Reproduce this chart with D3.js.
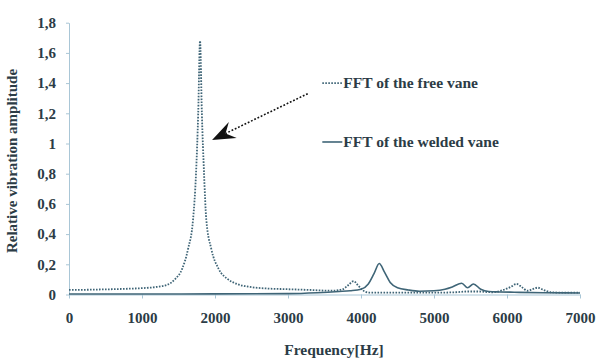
<!DOCTYPE html>
<html>
<head>
<meta charset="utf-8">
<script src="https://cdn.jsdelivr.net/npm/d3@7"></script>
<style>
html,body{margin:0;padding:0;background:#fff;}
svg{display:block;}
text{font-family:"Liberation Serif","Times New Roman",serif;font-weight:bold;fill:#2c3c46;}
</style>
</head>
<body>
<svg id="chart" width="597" height="361"></svg>
<script>
// Data
const freeFreq = [0,200,400,600,800,1000,1200,1350,1450,1550,1630,1700,1740,1770,1795,1820,1850,1880,1950,2050,2180,2300,2480,2700,3000,3300,3600,3750,3820,3900,3960,4020,4100,4300,4600,5000,5300,5450,5600,5800,5950,6050,6130,6200,6280,6350,6420,6500,6600,6800,7000];
const freeVal  = [0.03,0.031,0.033,0.035,0.038,0.042,0.05,0.065,0.1,0.17,0.3,0.5,0.8,1.2,1.68,1.2,0.8,0.5,0.3,0.17,0.1,0.07,0.05,0.04,0.035,0.03,0.025,0.035,0.06,0.088,0.06,0.03,0.013,0.012,0.012,0.012,0.015,0.02,0.02,0.015,0.03,0.05,0.07,0.05,0.025,0.035,0.045,0.03,0.015,0.012,0.012];
const weldFreq = [0,1000,2000,3000,3400,3700,3850,4000,4100,4180,4250,4320,4400,4500,4650,4800,5000,5150,5250,5380,5460,5540,5640,5750,5900,6100,6500,7000];
const weldVal  = [0.003,0.003,0.004,0.006,0.012,0.02,0.025,0.035,0.07,0.14,0.205,0.15,0.08,0.045,0.03,0.022,0.025,0.035,0.05,0.075,0.045,0.07,0.035,0.02,0.017,0.015,0.012,0.01];
const xTicks = [0,1000,2000,3000,4000,5000,6000,7000];
const yTicks = [0,0.2,0.4,0.6,0.8,1,1.2,1.4,1.6,1.8];
const seriesNames = ["FFT of the free vane","FFT of the welded vane"];
const xTitle = "Frequency[Hz]";
const yTitle = "Relative vibration amplitude";
// annotation in data coordinates
const arrowFrom = [3270,1.33];
const arrowTo = [1960,1.023];
const legendPos = [[3470,1.40],[3470,1.01]];

const svg = d3.select("#chart");
const W = 597, H = 361;
const m = {left:69, right:17, top:22.7, bottom:66.5};
const x = d3.scaleLinear().domain([0,7000]).range([m.left, W - m.right]);
const y = d3.scaleLinear().domain([0,1.8]).range([H - m.bottom, m.top]);

const axisColor = "#a9c6d6";
const lineColor = "#3f6577";
const fontFam = "Liberation Serif";

// y axis
const yAx = svg.append("g").attr("transform",`translate(${m.left},0)`)
  .call(d3.axisLeft(y).tickValues(yTicks).tickSize(3).tickSizeOuter(0)
    .tickFormat(d => String(+d.toFixed(1)).replace(".", ",")));
yAx.select(".domain").attr("stroke",axisColor);
yAx.selectAll(".tick line").attr("stroke",axisColor);
yAx.selectAll(".tick text").attr("x",-13).style("font-size","15px").style("font-family",fontFam).style("font-weight","bold").attr("fill","#2c3c46");

// x axis
const xAx = svg.append("g").attr("transform",`translate(0,${H - m.bottom})`)
  .call(d3.axisBottom(x).tickValues(xTicks).tickSize(4).tickSizeOuter(0).tickFormat(d3.format("d")));
xAx.select(".domain").attr("stroke",axisColor);
xAx.selectAll(".tick line").attr("stroke",axisColor);
xAx.selectAll(".tick text").attr("y",18).style("font-size","15px").style("font-family",fontFam).style("font-weight","bold").attr("fill","#2c3c46");

// titles
svg.append("text").attr("x",334).attr("y",H-6).attr("text-anchor","middle").style("font-size","15.5px").text(xTitle);
svg.append("text").attr("transform",`translate(17,161) rotate(-90)`).attr("text-anchor","middle").style("font-size","15px").text(yTitle);

// lines
const line = d3.line().x(d=>x(d[0])).y(d=>y(d[1])).curve(d3.curveMonotoneX);
const weld = weldFreq.map((f,i)=>[f,weldVal[i]]);
const free = freeFreq.map((f,i)=>[f,freeVal[i]]);
svg.append("path").datum(weld).attr("d",line).attr("fill","none").attr("stroke",lineColor).attr("stroke-width",1.6);
svg.append("path").datum(free).attr("d",line).attr("fill","none").attr("stroke",lineColor).attr("stroke-width",1.8).attr("stroke-dasharray","1.6,1.4");

// legend
legendPos.forEach((p,i)=>{
  const lx = x(p[0]), ly = y(p[1]);
  svg.append("line").attr("x1",lx).attr("x2",lx+20).attr("y1",ly).attr("y2",ly)
    .attr("stroke",lineColor).attr("stroke-width",1.6)
    .attr("stroke-dasharray", i===0 ? "1.6,1.4" : null);
  svg.append("text").attr("x",lx+21).attr("y",ly+5).style("font-size","15.5px").text(seriesNames[i]);
});

// arrow
const ax0 = x(arrowFrom[0]), ay0 = y(arrowFrom[1]);
const ax1 = x(arrowTo[0]), ay1 = y(arrowTo[1]);
const ang = Math.atan2(ay1-ay0, ax1-ax0);
const L = 23, back = 15, half = 9;
const ux = Math.cos(ang), uy = Math.sin(ang);
const px = -uy, py = ux;
const tipX = ax1, tipY = ay1;
const baseX = tipX - ux*L, baseY = tipY - uy*L;
const notchX = tipX - ux*back, notchY = tipY - uy*back;
svg.append("line").attr("x1",ax0).attr("y1",ay0).attr("x2",notchX).attr("y2",notchY)
  .attr("stroke","#111").attr("stroke-width",1.6).attr("stroke-dasharray","1.8,1.8");
svg.append("path").attr("d",`M${tipX},${tipY}L${baseX+px*half},${baseY+py*half}L${notchX},${notchY}L${baseX-px*half},${baseY-py*half}Z`).attr("fill","#111");
</script>
</body>
</html>
